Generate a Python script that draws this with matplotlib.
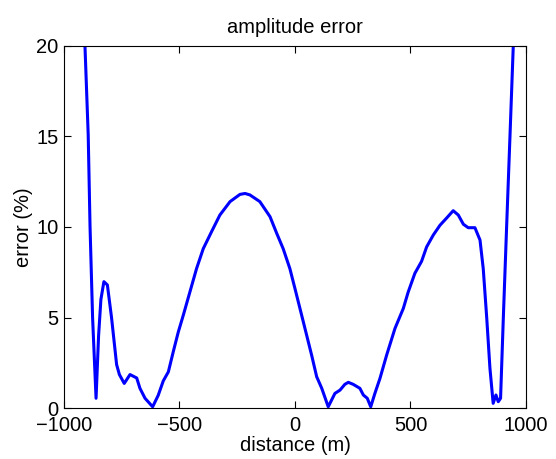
import matplotlib.pyplot as plt

plt.rcParams['font.family'] = ['Liberation Sans', 'DejaVu Sans']

# distance (m) and amplitude error (%)
distance = [-915, -909, -895, -887, -876, -861, -850, -840, -827, -812, -794,
            -772, -760, -739, -714, -685, -671, -649, -616, -592, -570, -548,
            -527, -505, -484, -455, -426, -397, -361, -325, -281, -238, -216,
            -195, -152, -108, -79, -51, -22, 0, 36, 72, 94, 116, 144, 173, 195,
            216, 231, 252, 281, 296, 313, 328, 346, 368, 397, 433, 469, 490,
            519, 548, 570, 599, 628, 657, 685, 707, 729, 750, 779, 801, 815,
            830, 844, 858, 870, 880, 890, 902, 916, 931, 945, 950]
error = [22.0, 20.0, 15.1, 10.0, 5.0, 0.54, 4.0, 6.0, 6.98, 6.8, 5.0,
         2.4, 1.85, 1.36, 1.85, 1.66, 1.09, 0.54, 0.07, 0.7, 1.5, 2.0,
         3.1, 4.2, 5.1, 6.4, 7.7, 8.8, 9.74, 10.66, 11.4, 11.8, 11.85,
         11.77, 11.4, 10.57, 9.65, 8.8, 7.7, 6.6, 4.77, 2.93, 1.73, 1.09, 0.07, 0.81, 0.99,
         1.31, 1.42, 1.31, 1.09, 0.72, 0.54, 0.07, 0.81, 1.64, 2.93, 4.4, 5.5, 6.4,
         7.44, 8.1, 8.9, 9.56, 10.1, 10.5, 10.9, 10.66, 10.15, 9.96, 9.96, 9.28, 7.7,
         5.0, 2.2, 0.26, 0.72, 0.35, 0.54, 5.0, 9.94, 15.1, 20.0, 21.5]

fig = plt.figure(figsize=(5.56, 4.59), dpi=100)
ax = fig.add_axes([0.115, 0.111, 0.831, 0.789])
ax.plot(distance, error, color='#0000ff', linewidth=2.2)
ax.set_xlim(-1000, 1000)
ax.set_ylim(0, 20)
ax.set_xticks([-1000, -500, 0, 500, 1000])
ax.set_xticklabels(['\u22121000', '\u2212500', '0', '500', '1000'])
ax.set_yticks([0, 5, 10, 15, 20])
ax.tick_params(direction='in', top=True, right=True, labelsize=14.5, length=5)
ax.tick_params(axis='x', pad=5.5)
ax.tick_params(axis='y', pad=4)
ax.set_xlabel('distance (m)', fontsize=14.5, labelpad=1)
ax.set_ylabel('error (%)', fontsize=14.5, labelpad=2)
ax.set_title('amplitude error', fontsize=14.5, pad=9)
fig.savefig('out.png')
